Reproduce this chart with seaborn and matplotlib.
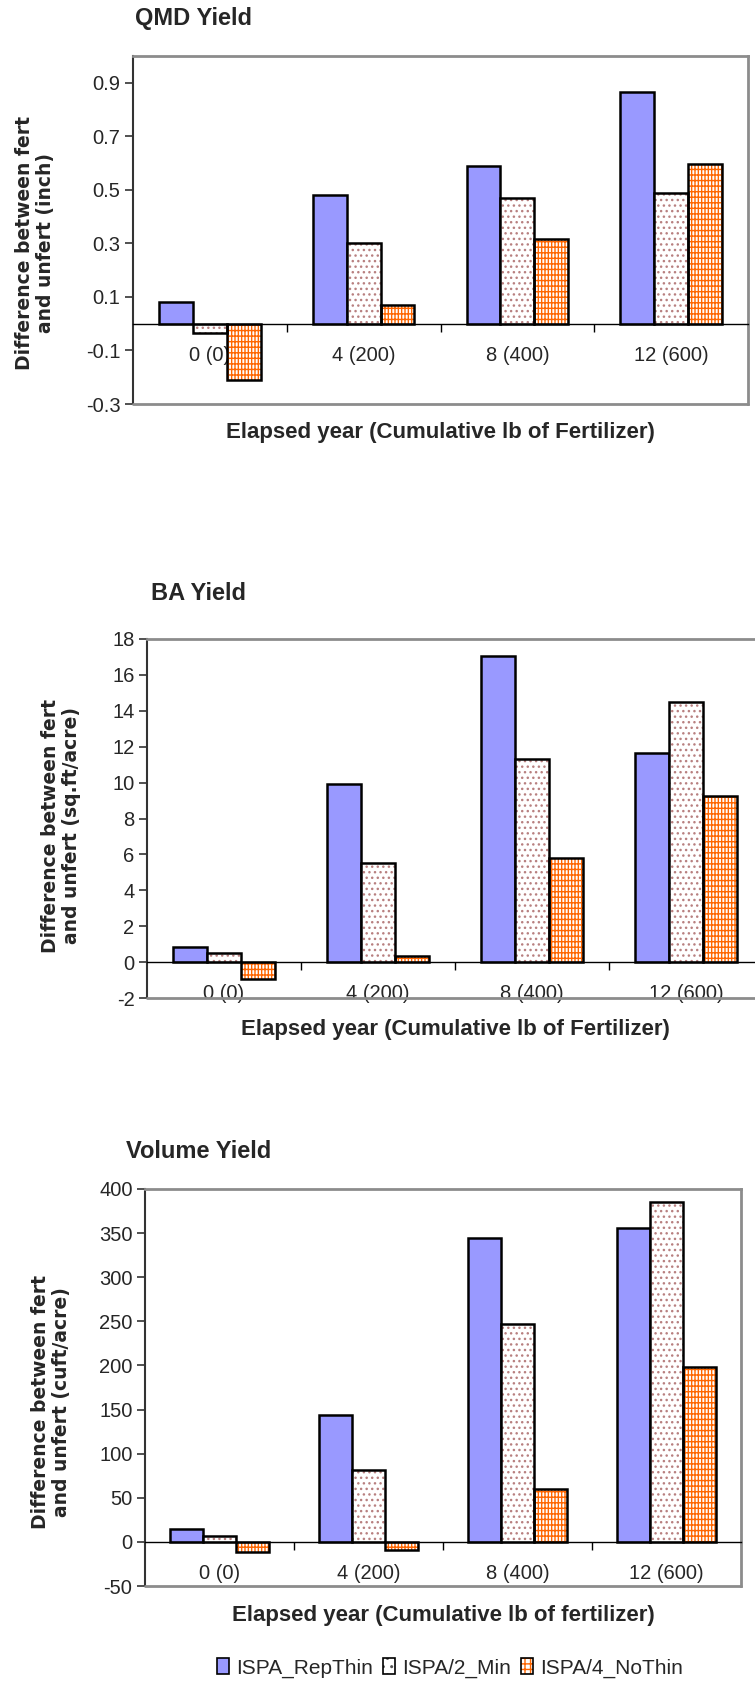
import numpy as np
import pandas as pd
import matplotlib
matplotlib.use("Agg")
import matplotlib.pyplot as plt
import seaborn as sns
from matplotlib.patches import Rectangle, Patch
from matplotlib.legend_handler import HandlerTuple

# ---------------- data ----------------
categories = ["0 (0)", "4 (200)", "8 (400)", "12 (600)"]
series = ["ISPA_RepThin", "ISPA/2_Min", "ISPA/4_NoThin"]

qmd_repthin = [0.08, 0.48, 0.59, 0.865]
qmd_min = [-0.035, 0.30, 0.47, 0.49]
qmd_nothin = [-0.21, 0.07, 0.315, 0.595]

ba_repthin = [0.82, 9.9, 17.05, 11.65]
ba_min = [0.5, 5.5, 11.3, 14.5]
ba_nothin = [-0.95, 0.35, 5.8, 9.25]

vol_repthin = [15, 144, 344, 356]
vol_min = [7, 82, 247, 385]
vol_nothin = [-12, -9, 60, 198]

qmd_ticks = [-0.3, -0.1, 0.1, 0.3, 0.5, 0.7, 0.9]
ba_ticks = [-2, 0, 2, 4, 6, 8, 10, 12, 14, 16, 18]
vol_ticks = [-50, 0, 50, 100, 150, 200, 250, 300, 350, 400]

# ---------------- style ----------------
sns.set_theme(style="ticks")
FONTS = ["Liberation Sans Narrow", "Liberation Sans", "DejaVu Sans"]
plt.rcParams["font.family"] = FONTS
plt.rcParams["hatch.linewidth"] = 1.0

W, H = 755, 1682
fig = plt.figure(figsize=(W / 100, H / 100), dpi=100)

BLUE = "#9999FF"
DOT = "#B88080"
ORANGE = "#FF6600"
FRAME = "#8C8C8C"
TICK_FS = 14.5
TITLE_FS = 17
XLAB_FS = 16
YLAB_FS = 13.5


def axes_px(l, t, r, b):
    return fig.add_axes([l / W, 1 - b / H, (r - l) / W, (b - t) / H])


def panel(ax, vals, ylim, yticks, fmt):
    df = pd.DataFrame({
        "period": categories * 3,
        "series": np.repeat(series, len(categories)),
        "value": list(vals[0]) + list(vals[1]) + list(vals[2]),
    })
    sns.barplot(data=df, x="period", y="value", hue="series",
                order=categories, hue_order=series,
                palette=[BLUE, "white", "white"], saturation=1,
                width=0.66, edgecolor="black", linewidth=1.8,
                errorbar=None, legend=False, ax=ax)
    # patterns + outlines
    for i, cont in enumerate(ax.containers):
        for p in cont:
            if i == 0:
                continue
            x, y = p.get_xy()
            w, h = p.get_width(), p.get_height()
            p.set_facecolor("white")
            p.set_linewidth(0)
            if i == 1:
                p.set_edgecolor(DOT)
                p.set_hatch("...")
            else:
                p.set_edgecolor(ORANGE)
                p.set_hatch("|||||---")
            ax.add_patch(Rectangle((x, y), w, h, fill=False, ec="black",
                                   lw=1.8, zorder=p.get_zorder() + 0.1))
    ax.set_xlim(-0.5, 3.5)
    ax.set_ylim(*ylim)
    ax.set_xlabel("")
    ax.set_ylabel("")
    ax.set_yticks(yticks, labels=[fmt(v) for v in yticks])
    ax.tick_params(axis="y", direction="out", length=6, width=1.2,
                   color="#333333", pad=3, labelsize=TICK_FS)
    # x axis on zero line
    ax.spines["bottom"].set_position(("data", 0))
    ax.spines["bottom"].set_color("black")
    ax.spines["bottom"].set_linewidth(1.0)
    ax.set_xticks([0.5, 1.5, 2.5], labels=[])
    ax.set_xticks([0, 1, 2, 3], labels=categories, minor=True)
    ax.tick_params(axis="x", which="major", direction="out", length=6,
                   width=1.0, color="black")
    ax.tick_params(axis="x", which="minor", length=0, pad=16,
                   labelsize=TICK_FS)
    ax.spines["left"].set_color("#333333")
    ax.spines["left"].set_linewidth(1.5)
    for s in ("top", "right"):
        ax.spines[s].set_color(FRAME)
        ax.spines[s].set_linewidth(2)
    ax.plot([0, 1], [0, 0], transform=ax.transAxes, color=FRAME, lw=2,
            clip_on=False, zorder=5)


def ftext(x, y, s, **kw):
    fig.text(x / W, 1 - y / H, s, **kw)


YLAB_KW = dict(fontsize=YLAB_FS, fontweight="bold", rotation=90, ha="center",
               va="center", family=["DejaVu Sans"], linespacing=1.1)

# ---- panel 1: QMD ----
ax1 = axes_px(133, 56, 748, 404)
panel(ax1, [qmd_repthin, qmd_min, qmd_nothin], (-0.3, 1.0), qmd_ticks,
      lambda v: f"{v:.1f}")
ftext(135, 19, "QMD Yield", fontsize=TITLE_FS, fontweight="bold",
      ha="left", va="center")
ftext(35, 243, "Difference between fert\nand unfert (inch)", **YLAB_KW)
ftext(440, 433, "Elapsed year (Cumulative lb of Fertilizer)",
      fontsize=XLAB_FS, fontweight="bold", ha="center", va="center")

# ---- panel 2: BA ----
ax2 = axes_px(147, 639, 763, 998)
panel(ax2, [ba_repthin, ba_min, ba_nothin], (-2, 18), ba_ticks,
      lambda v: f"{v:d}")
ftext(151, 593, "BA Yield", fontsize=TITLE_FS, fontweight="bold",
      ha="left", va="center")
ftext(61, 826, "Difference between fert\nand unfert (sq.ft/acre)", **YLAB_KW)
ftext(455, 1029, "Elapsed year (Cumulative lb of Fertilizer)",
      fontsize=XLAB_FS, fontweight="bold", ha="center", va="center")

# ---- panel 3: Volume ----
ax3 = axes_px(145, 1189, 741, 1586)
panel(ax3, [vol_repthin, vol_min, vol_nothin], (-50, 400), vol_ticks,
      lambda v: f"{v:d}")
ftext(126, 1152, "Volume Yield", fontsize=TITLE_FS, fontweight="bold",
      ha="left", va="center")
ftext(51, 1402, "Difference between fert\nand unfert (cuft/acre)", **YLAB_KW)
ftext(443, 1616, "Elapsed year (Cumulative lb of fertilizer)",
      fontsize=XLAB_FS, fontweight="bold", ha="center", va="center")

# ---- legend ----
h1 = Patch(facecolor=BLUE, edgecolor="black", lw=1.2)
h2 = (Patch(facecolor="white", edgecolor="#555555", lw=0, hatch=".."),
      Patch(facecolor="none", edgecolor="black", lw=1.2))
h3 = (Patch(facecolor="white", edgecolor=ORANGE, lw=0, hatch="|||---"),
      Patch(facecolor="none", edgecolor="black", lw=1.2))
fig.legend([h1, h2, h3], series, loc="center", ncol=3,
           bbox_to_anchor=(450 / W, 1 - 1668 / H), frameon=False,
           fontsize=15, handlelength=0.6, handleheight=0.8,
           handletextpad=0.35, columnspacing=0.45,
           handler_map={tuple: HandlerTuple(ndivide=1)})

fig.savefig("out.png", dpi=100)
